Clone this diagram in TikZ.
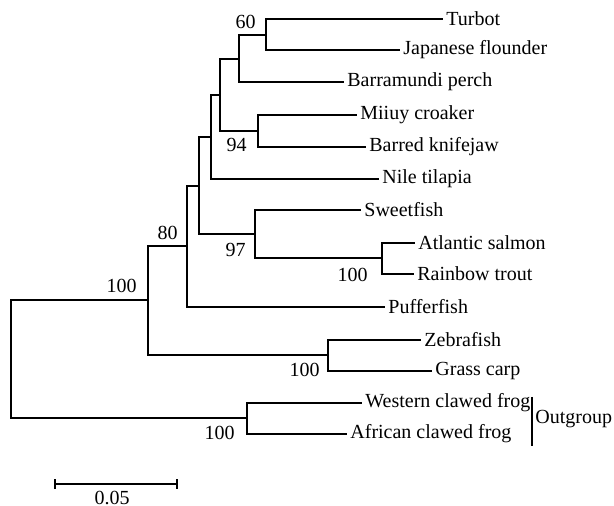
\documentclass[tikz,border=0pt]{standalone}
\usepackage{fontspec}
\setmainfont{Liberation Serif}
\usetikzlibrary{arrows.meta}

\begin{document}
\begin{tikzpicture}[
  x=0.5pt, y=-0.5pt,
  branch/.style={line width=0.8pt},
  leaf/.style={anchor=west, inner sep=1.5pt, font=\fontsize{10}{12}\selectfont},
  boot/.style={anchor=east, inner sep=0pt, font=\fontsize{10}{12}\selectfont}
]
\useasboundingbox (0,0) rectangle (614,506);

% Leaves — ingroup
\node[leaf] at (443,19)  (turbot)     {Turbot};
\node[leaf] at (400,50)  (japanese)   {Japanese flounder};
\node[leaf] at (344,82)  (barramundi) {Barramundi perch};
\node[leaf] at (357,115) (miiuy)      {Miiuy croaker};
\node[leaf] at (366,147) (barred)     {Barred knifejaw};
\node[leaf] at (379,179) (nile)       {Nile tilapia};
\node[leaf] at (361,210) (sweetfish)  {Sweetfish};
\node[leaf] at (415,243) (atlantic)   {Atlantic salmon};
\node[leaf] at (414,274) (rainbow)    {Rainbow trout};
\node[leaf] at (385,307) (pufferfish) {Pufferfish};
\node[leaf] at (421,340) (zebrafish)  {Zebrafish};
\node[leaf] at (432,371) (grass)      {Grass carp};

% Leaves — outgroup
\node[leaf] at (362,403) (western)    {Western clawed frog};
\node[leaf] at (347,434) (african)    {African clawed frog};

% Internal nodes
\coordinate (root)     at (11,359);
\coordinate (ingroup)  at (148,300);
\coordinate (teleost)  at (187,246);
\coordinate (acanth)   at (199,186);
\coordinate (percC)    at (211,137);
\coordinate (percB)    at (220,95);
\coordinate (percA)    at (239,59);
\coordinate (flatfish) at (266,35);
\coordinate (sciaenid) at (258,131);
\coordinate (osmer)    at (255,234);
\coordinate (salmonid) at (382,258);
\coordinate (cyprinid) at (328,355);
\coordinate (frogs)    at (247,418);

% Branches
\draw[branch] (root)     |- (ingroup);
\draw[branch] (root)     |- (frogs);
\draw[branch] (ingroup)  |- (teleost);
\draw[branch] (ingroup)  |- (cyprinid);
\draw[branch] (teleost)  |- (acanth);
\draw[branch] (teleost)  |- (pufferfish.west);
\draw[branch] (acanth)   |- (percC);
\draw[branch] (acanth)   |- (osmer);
\draw[branch] (percC)    |- (percB);
\draw[branch] (percC)    |- (nile.west);
\draw[branch] (percB)    |- (percA);
\draw[branch] (percB)    |- (sciaenid);
\draw[branch] (percA)    |- (flatfish);
\draw[branch] (percA)    |- (barramundi.west);
\draw[branch] (flatfish) |- (turbot.west);
\draw[branch] (flatfish) |- (japanese.west);
\draw[branch] (sciaenid) |- (miiuy.west);
\draw[branch] (sciaenid) |- (barred.west);
\draw[branch] (osmer)    |- (sweetfish.west);
\draw[branch] (osmer)    |- (salmonid);
\draw[branch] (salmonid) |- (atlantic.west);
\draw[branch] (salmonid) |- (rainbow.west);
\draw[branch] (cyprinid) |- (zebrafish.west);
\draw[branch] (cyprinid) |- (grass.west);
\draw[branch] (frogs)    |- (western.west);
\draw[branch] (frogs)    |- (african.west);

% Bootstrap values
\node[boot] at (256,22)  (bs60)      {60};
\node[boot] at (247,145) (bs94)      {94};
\node[boot] at (246,250) (bs97)      {97};
\node[boot] at (178,233) (bs80)      {80};
\node[boot] at (137,286) (bsingroup) {100};
\node[boot] at (368,275) (bssalmon)  {100};
\node[boot] at (320,370) (bscarp)    {100};
\node[boot] at (235,433) (bsfrogs)   {100};

% Outgroup bracket
\coordinate (ogtop) at (532,397);
\coordinate (ogbot) at (532,446);
\draw[branch] (ogtop) -- (ogbot);
\node[leaf, inner sep=0pt] at (535,419) (outgroup) {Outgroup};

% Scale bar
\coordinate (sbleft)  at (54,484);
\coordinate (sbright) at (178,484);
\draw[branch, {Bar[width=5pt]}-{Bar[width=5pt]}] (sbleft) -- (sbright);
\node[font=\fontsize{10}{12}\selectfont, inner sep=0pt] at (112,498) (sblabel) {0.05};
\end{tikzpicture}
\end{document}
